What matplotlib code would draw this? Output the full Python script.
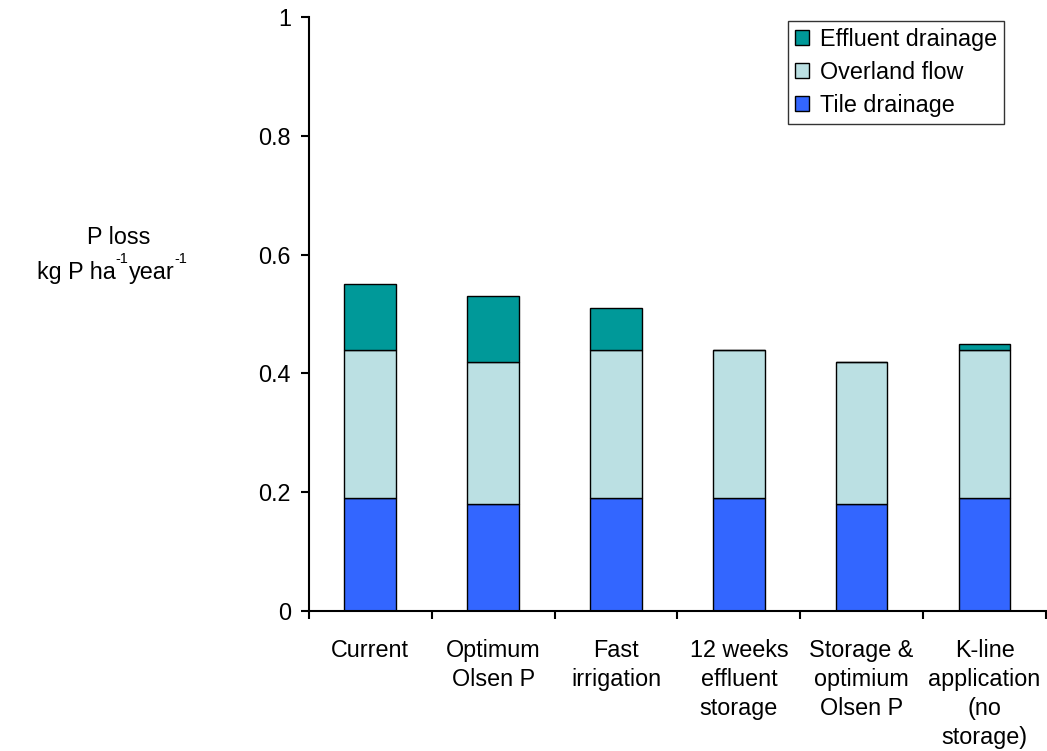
import matplotlib.pyplot as plt
import numpy as np

plt.rcParams['font.family'] = ['Liberation Sans', 'DejaVu Sans']

# данные
categories = ['Current', 'Optimum\nOlsen P', 'Fast\nirrigation', '12 weeks\neffluent\nstorage',
              'Storage &\noptimium\nOlsen P', 'K-line\napplication\n(no\nstorage)']
tile = [0.19, 0.18, 0.19, 0.19, 0.18, 0.19]
overland = [0.25, 0.24, 0.25, 0.25, 0.24, 0.25]
effluent = [0.11, 0.11, 0.07, 0.0, 0.0, 0.01]

fig = plt.figure(figsize=(10.47, 7.51), dpi=100)
ax = fig.add_axes([0.295, 0.1864, 0.704, 0.7910])

x = np.arange(len(categories))
w = 0.42
tile_a = np.array(tile)
over_a = np.array(overland)
ax.bar(x, tile, w, color='#3366FF', edgecolor='black', linewidth=1, label='Tile drainage')
ax.bar(x, overland, w, bottom=tile_a, color='#BBE0E3', edgecolor='black', linewidth=1,
       label='Overland flow')
ax.bar(x, effluent, w, bottom=tile_a + over_a, color='#009999', edgecolor='black', linewidth=1,
       label='Effluent drainage')

ax.set_xlim(-0.5, len(categories) - 0.5)
ax.set_ylim(0, 1)
ax.set_yticks([0, 0.2, 0.4, 0.6, 0.8, 1.0])
ax.set_yticklabels(['0', '0.2', '0.4', '0.6', '0.8', '1'])

fs = 16.8
# деления на границах категорий, подписи по центру
ax.set_xticks(np.arange(len(categories) + 1) - 0.5)
ax.set_xticklabels([])
ax.set_xticks(x, minor=True)
ax.set_xticklabels(categories, minor=True, linespacing=1.33, va='top')
ax.tick_params(axis='x', which='minor', length=0, pad=20, labelsize=fs)
ax.tick_params(axis='x', which='major', length=6, width=1.5)
ax.tick_params(axis='y', length=6, width=1.5, labelsize=fs, pad=7)

for s in ['top', 'right']:
    ax.spines[s].set_visible(False)
for s in ['left', 'bottom']:
    ax.spines[s].set_linewidth(1.5)

# подпись оси Y: текст + маленькие верхние индексы
fig.text(0.113, 0.684, 'P loss', ha='center', va='center', fontsize=fs)
parts = [('kg P ha', False), ('-1', True), ('year', False), ('-1', True)]
r = fig.canvas.get_renderer()
xpos = 37 / 1047
ybase = 0.628
for txt, sup in parts:
    t = fig.text(xpos, ybase + (0.022 if sup else 0), txt, ha='left', va='baseline',
                 fontsize=fs * 0.62 if sup else fs)
    bb = t.get_window_extent(renderer=r)
    xpos = bb.x1 / fig.bbox.width

h, l = ax.get_legend_handles_labels()
ax.legend(h[::-1], l[::-1], loc='upper right', bbox_to_anchor=(0.943, 0.993), fontsize=fs,
          frameon=True, fancybox=False, edgecolor='black', handlelength=0.6, handleheight=0.6,
          handletextpad=0.45, borderpad=0.3, labelspacing=0.42, borderaxespad=0.0)

plt.savefig('out.png', dpi=100)
